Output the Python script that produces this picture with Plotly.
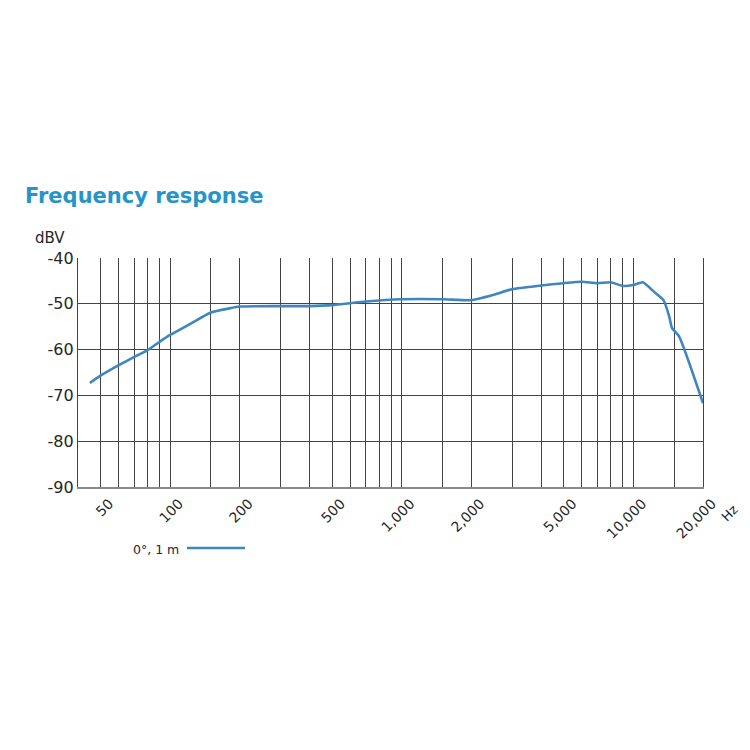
import numpy as np
import plotly.graph_objects as go

# Data
freq_hz = [45, 50, 60, 70, 80, 90, 100, 120, 150, 180, 200, 300, 400, 500, 700,
           1000, 1500, 2000, 2500, 3000, 4000, 5000, 6000, 7000, 8000, 9000,
           10000, 11000, 12300, 13500, 14300, 14700, 15800, 20000]
level_dbv = [-67.3, -65.7, -63.4, -61.6, -60.1, -58.3, -56.8, -54.6, -51.9, -51.0,
             -50.6, -50.5, -50.5, -50.3, -49.5, -49.0, -49.0, -49.2, -48.0, -46.8,
             -46.0, -45.5, -45.2, -45.5, -45.3, -46.1, -45.9, -45.3, -47.4, -49.2,
             -52.8, -55.3, -57.2, -71.7]

grid_freqs = [50, 60, 70, 80, 90, 100, 150, 200, 300, 400, 500, 600, 700, 800, 900,
              1000, 1500, 2000, 3000, 4000, 5000, 6000, 7000, 8000, 9000, 10000,
              15000, 20000]
labelled = {50: "50", 100: "100", 200: "200", 500: "500", 1000: "1,000",
            2000: "2,000", 5000: "5,000", 10000: "10,000", 20000: "20,000"}
grid_text = [labelled.get(f, "") for f in grid_freqs]
y_ticks = [-40, -50, -60, -70, -80, -90]
y_text = ["-40", "-50", "-60", "-70", "-80", "-90"]

series_name = "0°, 1 m"
line_color = "#3f86bf"
title_color = "#2595c9"
text_color = "#262626"
font_family = "DejaVu Sans, Liberation Sans, Arial, sans-serif"

# page body has an 8px margin; figure sized so it fits the 750px window
W = H = 734
OFF = 8
PL, PR, PT, PB = 78, 703, 258, 487  # plot area in page pixels
pw, ph = PR - PL, PB - PT


def px(x):
    return (x - PL) / pw


def py(y):
    return (PB - y) / ph


fig = go.Figure()
fig.add_trace(go.Scatter(
    x=freq_hz, y=level_dbv, mode="lines",
    line=dict(color=line_color, width=2.6, shape="spline", smoothing=0.5),
    name=series_name, showlegend=False, hoverinfo="skip",
))

fig.update_layout(
    width=W, height=H,
    paper_bgcolor="white", plot_bgcolor="white",
    margin=dict(l=PL - OFF, r=W - (PR - OFF), t=PT - OFF, b=H - (PB - OFF)),
    font=dict(family=font_family, color=text_color, size=14),
    title=dict(text="Frequency response", x=(25 - OFF) / W, xanchor="left",
               xref="container", yref="container",
               y=1 - (196 - OFF) / H, yanchor="middle",
               font=dict(family=font_family, size=21, color=title_color, weight=600)),
    xaxis=dict(
        type="log", range=[np.log10(40), np.log10(20000)],
        tickmode="array", tickvals=grid_freqs, ticktext=grid_text,
        tickangle=-45, ticks="", ticklabelshift=9, ticklabelstandoff=1,
        showgrid=True, gridcolor="#444444", gridwidth=1.3,
        showline=True, linecolor="#8a8a8a", linewidth=2, mirror=False,
        zeroline=False, tickfont=dict(size=14, color=text_color),
    ),
    yaxis=dict(
        range=[-90, -40], tickmode="array", tickvals=y_ticks, ticktext=y_text,
        ticks="", showgrid=True, gridcolor="#444444", gridwidth=1.3,
        showline=True, linecolor="#444444", linewidth=1.3, mirror=True,
        zeroline=False, tickfont=dict(size=16, color=text_color),
    ),
)

fig.add_annotation(text="dBV", xref="paper", yref="paper",
                   x=px(33), y=py(238),
                   xanchor="left", yanchor="middle", showarrow=False,
                   font=dict(size=15, color=text_color))
fig.add_annotation(text="Hz", xref="paper", yref="paper",
                   x=px(729), y=py(513),
                   xanchor="center", yanchor="middle", showarrow=False,
                   textangle=-45, font=dict(size=13, color=text_color))
# legend: text followed by line swatch
fig.add_annotation(text=series_name, xref="paper", yref="paper",
                   x=px(181), y=py(549),
                   xanchor="right", yanchor="middle", showarrow=False,
                   font=dict(size=12.5, color=text_color))
fig.add_shape(type="line", xref="paper", yref="paper",
              x0=px(187), x1=px(245), y0=py(548), y1=py(548),
              line=dict(color=line_color, width=2.6))

fig.write_html("out.html")
